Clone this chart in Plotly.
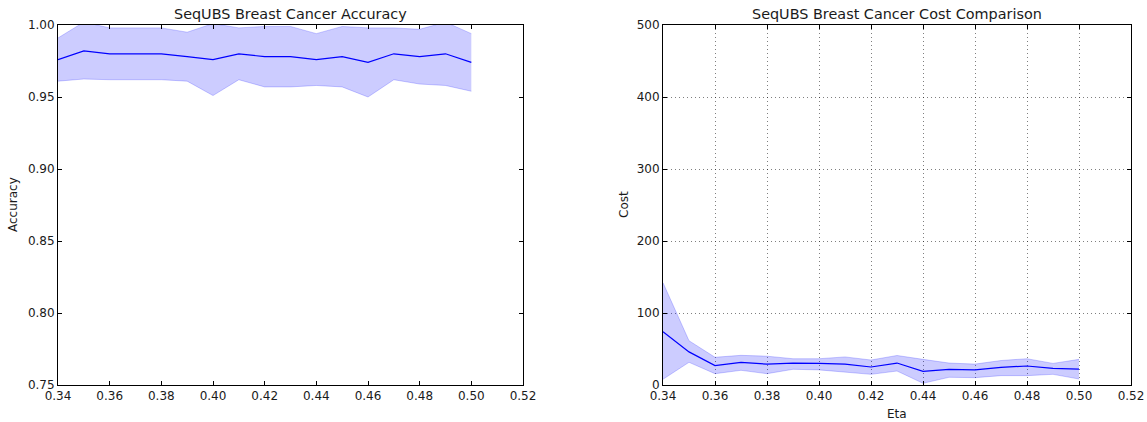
import plotly.graph_objects as go

# Eta values swept in the experiment
eta = [0.34, 0.35, 0.36, 0.37, 0.38, 0.39, 0.40, 0.41, 0.42,
       0.43, 0.44, 0.45, 0.46, 0.47, 0.48, 0.49, 0.50]

# Accuracy: mean with lower / upper band
acc_mean = [0.976, 0.982, 0.980, 0.980, 0.980, 0.978, 0.976, 0.980, 0.978,
            0.978, 0.976, 0.978, 0.974, 0.980, 0.978, 0.980, 0.974]
acc_low = [0.961, 0.9625, 0.962, 0.962, 0.962, 0.961, 0.951, 0.962, 0.957,
           0.957, 0.958, 0.957, 0.950, 0.962, 0.959, 0.958, 0.954]
acc_high = [0.991, 1.002, 0.998, 0.998, 0.998, 0.995, 1.001, 0.998, 0.999,
            0.999, 0.994, 0.999, 0.998, 0.998, 0.997, 1.002, 0.994]

# Cost: mean with lower / upper band
cost_mean = [74, 46, 27, 31.5, 29, 30.5, 30, 29, 25,
             30.5, 19, 21.8, 21, 24.5, 26.4, 23, 22]
cost_low = [8, 31.5, 15.7, 20.4, 15.7, 21.8, 21, 17.6, 14.8,
            19.4, 2.4, 10.7, 10.2, 13, 13, 14.8, 8.3]
cost_high = [142, 61.5, 38.5, 41.2, 40, 36.5, 36.5, 39, 34.7,
             41, 35.6, 30.5, 29, 34, 36.5, 30, 35.6]

x_ticks = [0.34, 0.36, 0.38, 0.40, 0.42, 0.44, 0.46, 0.48, 0.50, 0.52]
acc_ticks = [0.75, 0.80, 0.85, 0.90, 0.95, 1.00]
cost_ticks = [0, 100, 200, 300, 400, 500]

LINE = "#0000ff"
BAND = "rgba(0,0,255,0.2)"
FONT = "DejaVu Sans"
TEXT = "#1a1a1a"

W, H = 1147, 422
ML, MR, MT, MB = 58, 16, 25, 37
PW = W - ML - MR
PH = H - MT - MB


def px_x(p):
    """Convert a pixel column into plot-area paper coordinates."""
    return (p - ML) / PW


def px_y(p):
    """Convert a pixel row into plot-area paper coordinates."""
    return 1 - (p - MT) / PH


fig = go.Figure()


def add_band(xa, ya, mean, low, high):
    fig.add_trace(go.Scatter(x=eta, y=low, xaxis=xa, yaxis=ya, mode="lines",
                             line=dict(color=BAND, width=1), showlegend=False,
                             hoverinfo="skip"))
    fig.add_trace(go.Scatter(x=eta, y=high, xaxis=xa, yaxis=ya, mode="lines",
                             line=dict(color=BAND, width=1), fill="tonexty",
                             fillcolor=BAND, showlegend=False, hoverinfo="skip"))
    fig.add_trace(go.Scatter(x=eta, y=mean, xaxis=xa, yaxis=ya, mode="lines",
                             line=dict(color=LINE, width=1.2), showlegend=False))


add_band("x", "y", acc_mean, acc_low, acc_high)
add_band("x2", "y2", cost_mean, cost_low, cost_high)

dom1 = [px_x(58), px_x(523)]
dom2 = [px_x(663), px_x(1131)]

axis_common = dict(
    showline=True, linecolor="black", linewidth=1, mirror="ticks",
    ticks="inside", ticklen=4, tickcolor="black", tickwidth=1,
    zeroline=False, automargin=False,
    tickfont=dict(family=FONT, size=12, color=TEXT),
)
grid = dict(showgrid=True, gridcolor="rgba(0,0,0,0.5)", griddash="1px,3px",
            gridwidth=1)

fig.update_layout(
    width=W, height=H,
    margin=dict(l=ML, r=MR, t=MT, b=MB),
    paper_bgcolor="white", plot_bgcolor="white",
    font=dict(family=FONT, size=12, color=TEXT),
    xaxis=dict(domain=dom1, range=[0.34, 0.52], tickvals=x_ticks,
               ticktext=[f"{v:.2f}" for v in x_ticks], showgrid=False,
               anchor="y", **axis_common),
    yaxis=dict(domain=[0, 1], range=[0.75, 1.0], tickvals=acc_ticks,
               ticktext=[f"{v:.2f}" for v in acc_ticks], showgrid=False,
               anchor="x", **axis_common),
    xaxis2=dict(domain=dom2, range=[0.34, 0.52], tickvals=x_ticks,
                ticktext=[f"{v:.2f}" for v in x_ticks],
                anchor="y2", **grid, **axis_common),
    yaxis2=dict(domain=[0, 1], range=[0, 500], tickvals=cost_ticks,
                ticktext=[str(v) for v in cost_ticks],
                anchor="x2", **grid, **axis_common),
)

annots = [
    dict(text="SeqUBS Breast Cancer Accuracy", x=sum(dom1) / 2, y=1,
         xanchor="center", yanchor="bottom", yshift=1, font=dict(size=14.4)),
    dict(text="SeqUBS Breast Cancer Cost Comparison", x=sum(dom2) / 2, y=1,
         xanchor="center", yanchor="bottom", yshift=1, font=dict(size=14.4)),
    dict(text="Accuracy", x=px_x(13), y=0.5, textangle=-90,
         xanchor="center", yanchor="middle", font=dict(size=12)),
    dict(text="Cost", x=px_x(624), y=0.5, textangle=-90,
         xanchor="center", yanchor="middle", font=dict(size=12)),
    dict(text="Eta", x=sum(dom2) / 2, y=px_y(414),
         xanchor="center", yanchor="middle", font=dict(size=12)),
]
for a in annots:
    a.update(xref="paper", yref="paper", showarrow=False)
    a["font"] = dict(family=FONT, color=TEXT, **a["font"])
    fig.add_annotation(**a)

fig.write_html("out.html")
